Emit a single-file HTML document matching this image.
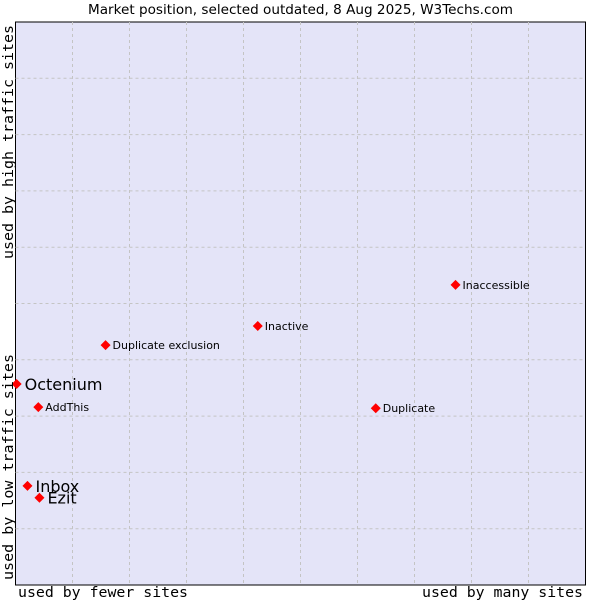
<!DOCTYPE html>
<html><head><meta charset="utf-8"><style>
body{margin:0;background:#fff;width:600px;height:600px;overflow:hidden}
svg text{font-family:"DejaVu Sans","Liberation Sans",sans-serif}
.mono{font-family:"DejaVu Sans Mono","Liberation Mono",monospace}
</style></head><body>
<svg id="c" width="600" height="600" xmlns="http://www.w3.org/2000/svg">
<text x="88" y="14" textLength="425" lengthAdjust="spacingAndGlyphs" font-size="13" fill="#000">Market position, selected outdated, 8 Aug 2025, W3Techs.com</text>
<rect x="15.5" y="22" width="570" height="563" fill="#e4e4f8" stroke="#000" stroke-width="1"/>
<g id="grid"></g>
<g id="pts"></g>
<text class="mono" x="18" y="597" font-size="14" textLength="170" lengthAdjust="spacingAndGlyphs">used by fewer sites</text>
<text class="mono" x="422" y="597" font-size="14" textLength="161" lengthAdjust="spacingAndGlyphs">used by many sites</text>
<text class="mono" transform="translate(13,580) rotate(-90)" font-size="14" textLength="226" lengthAdjust="spacingAndGlyphs">used by low traffic sites</text>
<text class="mono" transform="translate(13,259) rotate(-90)" font-size="14" textLength="234" lengthAdjust="spacingAndGlyphs">used by high traffic sites</text>
</svg>
<script>
const names=["Octenium","AddThis","Inbox","Ezit","Duplicate exclusion","Inactive","Inaccessible","Duplicate"];
const xVals=[0.2,4.0,2.1,4.2,15.8,42.5,77.2,63.2];
const yVals=[35.7,31.6,17.6,15.5,42.6,46.0,53.3,31.4];
const bigLabel=[true,false,true,true,false,false,false,false];
const L=15.5,T=22,W=570,H=563;
const sx=v=>L+v/100*W, sy=v=>T+H-v/100*H;
const NS="http://www.w3.org/2000/svg";
const grid=document.getElementById('grid');
for(let i=1;i<10;i++){
 const v=document.createElementNS(NS,'line');
 v.setAttribute('x1',sx(i*10));v.setAttribute('x2',sx(i*10));v.setAttribute('y1',T);v.setAttribute('y2',T+H);
 v.setAttribute('stroke','#c4c4c4');v.setAttribute('stroke-dasharray','3,3');
 
 
 grid.appendChild(v);
 const h=document.createElementNS(NS,'line');
 h.setAttribute('y1',sy(i*10));h.setAttribute('y2',sy(i*10));h.setAttribute('x1',L);h.setAttribute('x2',L+W);
 h.setAttribute('stroke','#c4c4c4');h.setAttribute('stroke-dasharray','3,3');
 
 
 grid.appendChild(h);
}
const pts=document.getElementById('pts');
names.forEach((n,i)=>{
 const x=sx(xVals[i]),y=sy(yVals[i]);
 const p=document.createElementNS(NS,'polygon');
 p.setAttribute('points',`${x},${y-5} ${x+5},${y} ${x},${y+5} ${x-5},${y}`);
 p.setAttribute('fill','#ff0000');
 
 
 pts.appendChild(p);
 const t=document.createElementNS(NS,'text');
 t.setAttribute('x',x+(bigLabel[i]?8:7));t.setAttribute('y',y+(bigLabel[i]?6:4));
 t.setAttribute('font-size',bigLabel[i]?16:11);
 t.textContent=n;
 
 
 pts.appendChild(t);
});
</script>
</body></html>
